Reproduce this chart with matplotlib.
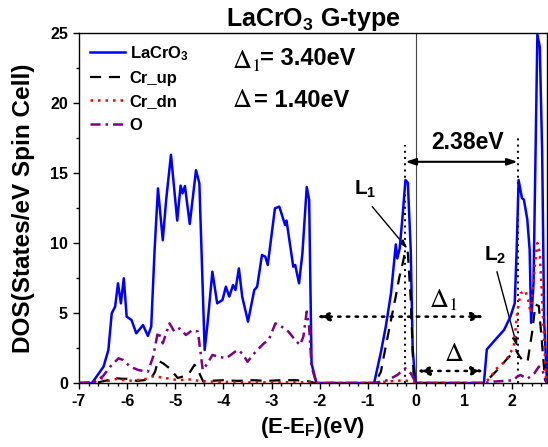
import matplotlib
matplotlib.use("Agg")
import matplotlib.pyplot as plt
from matplotlib.ticker import MultipleLocator

plt.rcParams['font.family'] = ['Liberation Sans', 'DejaVu Sans']
plt.rcParams['axes.unicode_minus'] = False
plt.rcParams['mathtext.fontset'] = 'custom'
plt.rcParams['mathtext.rm'] = 'Liberation Sans:bold'
plt.rcParams['mathtext.it'] = 'Liberation Sans:bold'
plt.rcParams['mathtext.bf'] = 'Liberation Sans:bold'

# ── data ──────────────────────────────────────────────────────────────────────
blue_e = [-7.0, -6.73, -6.49, -6.39, -6.32, -6.25, -6.19, -6.13, -6.07, -6.01,
          -5.91, -5.81, -5.67, -5.57, -5.50, -5.43, -5.36, -5.26, -5.19, -5.09,
          -4.96, -4.89, -4.85, -4.80, -4.70, -4.57, -4.50, -4.39, -4.33, -4.23,
          -4.13, -4.02, -3.95, -3.88, -3.80, -3.75, -3.68, -3.61, -3.49, -3.36,
          -3.30, -3.20, -3.13, -3.08, -2.93, -2.84, -2.72, -2.69, -2.55, -2.51,
          -2.43, -2.36, -2.27, -2.22, -2.17, -2.07,
          -0.87, -0.73, -0.63, -0.52, -0.42, -0.39, -0.34, -0.28, -0.22, -0.17,
          -0.11, -0.07, -0.01,
          1.41, 1.47, 1.61, 1.83, 1.96, 2.05, 2.09, 2.13, 2.20, 2.24, 2.31,
          2.36, 2.39, 2.44, 2.52, 2.57, 2.62, 2.66, 2.72]
blue_dos = [0, 0, 1.17, 2.36, 4.98, 5.45, 7.12, 5.69, 7.48, 4.74,
            4.5, 3.55, 4.14, 3.36, 4.02, 9.5, 13.9, 10.2, 13.07, 16.3,
            11.6, 14.1, 13.55, 14.07, 11.36, 15.2, 14.26, 2.36, 4.26, 7.95,
            5.69, 5.93, 6.88, 6.17, 7.0, 6.64, 8.19, 6.17, 4.38, 6.64,
            6.88, 9.14, 9.02, 8.43, 12.48, 12.6, 11.29, 11.6, 8.31, 8.43,
            7.12, 9.26, 14.0, 13.07, 1.4, 0,
            0, 2.2, 4.0, 6.4, 9.9, 8.9, 9.6, 11.9, 14.5, 14.3,
            9.5, 2.4, 0,
            0, 2.4, 2.95, 3.8, 4.74, 5.7, 9.5, 14.5, 13.2, 13.1, 11.7,
            9.5, 4.3, 7.1, 24.9, 24.0, 16.4, 4.5, 0]

up_e = [-7.0, -6.6, -6.4, -6.25, -6.1, -5.95, -5.8, -5.65, -5.5, -5.42,
        -5.36, -5.25, -5.12, -4.95, -4.8, -4.71, -4.6, -4.5, -4.42, -4.3,
        -4.0, -3.7, -3.4, -3.1, -2.8, -2.5, -2.3, -2.2, -2.1,
        -0.85, -0.73, -0.63, -0.52, -0.42, -0.35, -0.28, -0.22, -0.17, -0.11,
        -0.05, 0.0,
        1.41, 1.48, 1.69, 1.90, 2.07, 2.15, 2.24, 2.32, 2.41, 2.48, 2.55,
        2.61, 2.68, 2.72]
up_dos = [0, 0.05, 0.2, 0.35, 0.3, 0.3, 0.15, 0.2, 0.35, 0.8,
          1.6, 1.4, 1.05, 0.36, 0.5, 0.7, 1.3, 0.7, 0.1, 0.15,
          0.2, 0.15, 0.2, 0.15, 0.2, 0.2, 0.15, 0.1, 0,
          0, 0.8, 2.6, 4.5, 6.2, 7.5, 8.5, 9.5, 9.3, 6.0,
          0.5, 0,
          0, 0.2, 0.93, 1.76, 2.36, 1.9, 1.5, 1.6, 3.6, 5.6, 5.5,
          3.1, 0.2, 0]

dn_e = [-7.0, -6.7, -6.55, -6.4, -6.2, -6.0, -5.8, -5.6, -5.44, -5.3,
        -5.1, -4.95, -4.7, -4.5, -4.3, -3.5, -2.5, -2.2, -2.1,
        -0.9, -0.6, -0.4, -0.25, -0.1, 0.0,
        1.41, 1.52, 1.66, 1.87, 2.03, 2.10, 2.17, 2.27, 2.33, 2.38, 2.43,
        2.47, 2.52, 2.57, 2.64, 2.70, 2.72]
dn_dos = [0, 0.05, 0.35, 0.15, 0.3, 0.15, 0.2, 0.3, 0.5, 0.4,
          0.3, 0.2, 0.25, 0.15, 0.1, 0.05, 0.05, 0.05, 0,
          0, 0.1, 0.15, 0.2, 0.1, 0,
          0, 0.3, 1.0, 1.6, 2.6, 5.0, 6.4, 6.6, 5.9, 5.0, 6.9,
          8.5, 10.0, 9.3, 4.5, 0.2, 0]

o_e = [-7.0, -6.7, -6.5, -6.35, -6.18, -6.08, -5.94, -5.77, -5.57, -5.46,
       -5.36, -5.26, -5.12, -5.02, -4.91, -4.78, -4.64, -4.53, -4.43, -4.33,
       -4.23, -4.09, -3.95, -3.85, -3.71, -3.61, -3.50, -3.33, -3.16, -3.06,
       -2.92, -2.79, -2.65, -2.51, -2.41, -2.34, -2.27, -2.22, -2.17, -2.07,
       -0.85, -0.59, -0.39, -0.22, -0.11, 0.0,
       1.41, 1.62, 1.83, 2.03, 2.10, 2.17, 2.31, 2.39, 2.46, 2.55, 2.62,
       2.68, 2.72]
o_dos = [0, 0, 0.5, 1.17, 1.76, 1.64, 1.17, 0.93, 0.8, 1.88,
         3.67, 2.83, 4.26, 3.67, 3.9, 3.43, 3.79, 3.67, 0.93, 1.4,
         2.0, 1.88, 1.76, 2.0, 2.36, 2.12, 1.52, 2.24, 2.83, 3.07,
         4.26, 4.02, 3.67, 3.07, 2.71, 3.31, 5.1, 4.02, 1.17, 0,
         0, 0.2, 0.57, 1.05, 0.7, 0,
         0, 0.1, 0.15, 0.2, 0.45, 0.57, 0.3, 0.5, 0.7, 1.17, 1.0,
         0.3, 0]

# ── figure ────────────────────────────────────────────────────────────────────
fig = plt.figure(figsize=(5.48, 4.47), dpi=100)
ax = fig.add_axes([79 / 548, 1 - 383 / 447, 468 / 548, 350 / 447])

ax.plot(blue_e, blue_dos, color="#0000FF", lw=1.8, label="LaCrO$_3$", zorder=4)
ax.plot(up_e, up_dos, color="black", lw=1.6, dashes=(5, 3.5), label="Cr_up", zorder=5)
ax.plot(dn_e, dn_dos, color="#FF0000", lw=1.8, linestyle=(0, (1, 2)), label="Cr_dn", zorder=5)
ax.plot(o_e, o_dos, color="#800080", lw=1.8, linestyle=(0, (4, 2, 1, 2)), label="O", zorder=5)

# Fermi level
ax.axvline(0, color="#444444", lw=0.8, zorder=2)

# ── gap annotations ───────────────────────────────────────────────────────────
ax.plot([-0.22, -0.22], [0, 17.0], color="black", lw=1.4, linestyle=(0, (1, 2.2)), zorder=3)
ax.plot([2.11, 2.11], [0, 17.7], color="black", lw=1.4, linestyle=(0, (1, 2.2)), zorder=3)
ax.annotate("", xy=(2.11, 15.8), xytext=(-0.22, 15.8),
            arrowprops=dict(arrowstyle="<|-|>,head_length=0.6,head_width=0.2",
                            color="black", lw=1.5, shrinkA=0, shrinkB=0))
ax.text(1.07, 17.2, "2.38eV", ha="center", va="center", fontsize=16.5, fontweight="bold")

ax.annotate("", xy=(1.41, 4.74), xytext=(-2.06, 4.74),
            arrowprops=dict(arrowstyle="<|-|>,head_length=0.7,head_width=0.25",
                            color="black", lw=1.8, linestyle=(0, (1, 2.5)),
                            shrinkA=0, shrinkB=0))
ax.annotate("", xy=(1.41, 0.86), xytext=(0.02, 0.86),
            arrowprops=dict(arrowstyle="<|-|>,head_length=0.7,head_width=0.25",
                            color="black", lw=1.8, linestyle=(0, (1, 2.5)),
                            shrinkA=0, shrinkB=0))
ax.text(0.57, 5.9, r"$\Delta_1$", ha="center", va="center", fontsize=19,
        math_fontfamily="stix")
ax.text(0.78, 2.1, r"$\Delta$", ha="center", va="center", fontsize=19,
        math_fontfamily="stix")

ax.text(-1.05, 13.8, "L$_1$", ha="center", va="center", fontsize=15, fontweight="bold")
ax.annotate("", xy=(-0.18, 9.6), xytext=(-0.91, 12.6),
            arrowprops=dict(arrowstyle="-|>,head_length=0.5,head_width=0.15",
                            color="black", lw=1.0, shrinkA=0, shrinkB=0))
ax.text(1.65, 9.1, "L$_2$", ha="center", va="center", fontsize=15, fontweight="bold")
ax.annotate("", xy=(2.10, 2.6), xytext=(1.68, 7.95),
            arrowprops=dict(arrowstyle="-|>,head_length=0.5,head_width=0.15",
                            color="black", lw=1.0, shrinkA=0, shrinkB=0))

# gap values, top centre
ax.text(-3.82, 23.0, r"$\Delta_1$", ha="left", va="center", fontsize=19,
        math_fontfamily="stix")
ax.text(-3.25, 23.2, "= 3.40eV", ha="left", va="center", fontsize=17, fontweight="bold")
ax.text(-3.82, 20.2, r"$\Delta$", ha="left", va="center", fontsize=19,
        math_fontfamily="stix")
ax.text(-3.36, 20.2, "= 1.40eV", ha="left", va="center", fontsize=17, fontweight="bold")

# ── axes ──────────────────────────────────────────────────────────────────────
ax.set_xlim(-7, 2.72)
ax.set_ylim(0, 25)
ax.xaxis.set_major_locator(MultipleLocator(1))
ax.xaxis.set_minor_locator(MultipleLocator(0.2))
ax.yaxis.set_major_locator(MultipleLocator(5))
ax.yaxis.set_minor_locator(MultipleLocator(2.5))
ax.tick_params(which="both", direction="out", width=1.0, labelsize=11.5)
ax.tick_params(which="major", length=4.5)
ax.tick_params(which="minor", length=2.5)
for lab in ax.get_xticklabels() + ax.get_yticklabels():
    lab.set_fontweight("bold")
for sp in ax.spines.values():
    sp.set_linewidth(1.0)

ax.set_xlabel("(E-E$_F$)(eV)", fontsize=16, fontweight="bold", labelpad=4)
ax.set_ylabel("DOS(States/eV Spin Cell)", fontsize=17.5, fontweight="bold", labelpad=11)
ax.set_title("LaCrO$_3$ G-type", fontsize=18, fontweight="bold", pad=3)

leg = ax.legend(loc="upper left", frameon=False, fontsize=12, handlelength=2.1,
                handletextpad=0.3, labelspacing=0.5, borderaxespad=0.45,
                borderpad=0.2)
for t in leg.get_texts():
    t.set_fontweight("bold")

fig.savefig("out.png", dpi=100)
